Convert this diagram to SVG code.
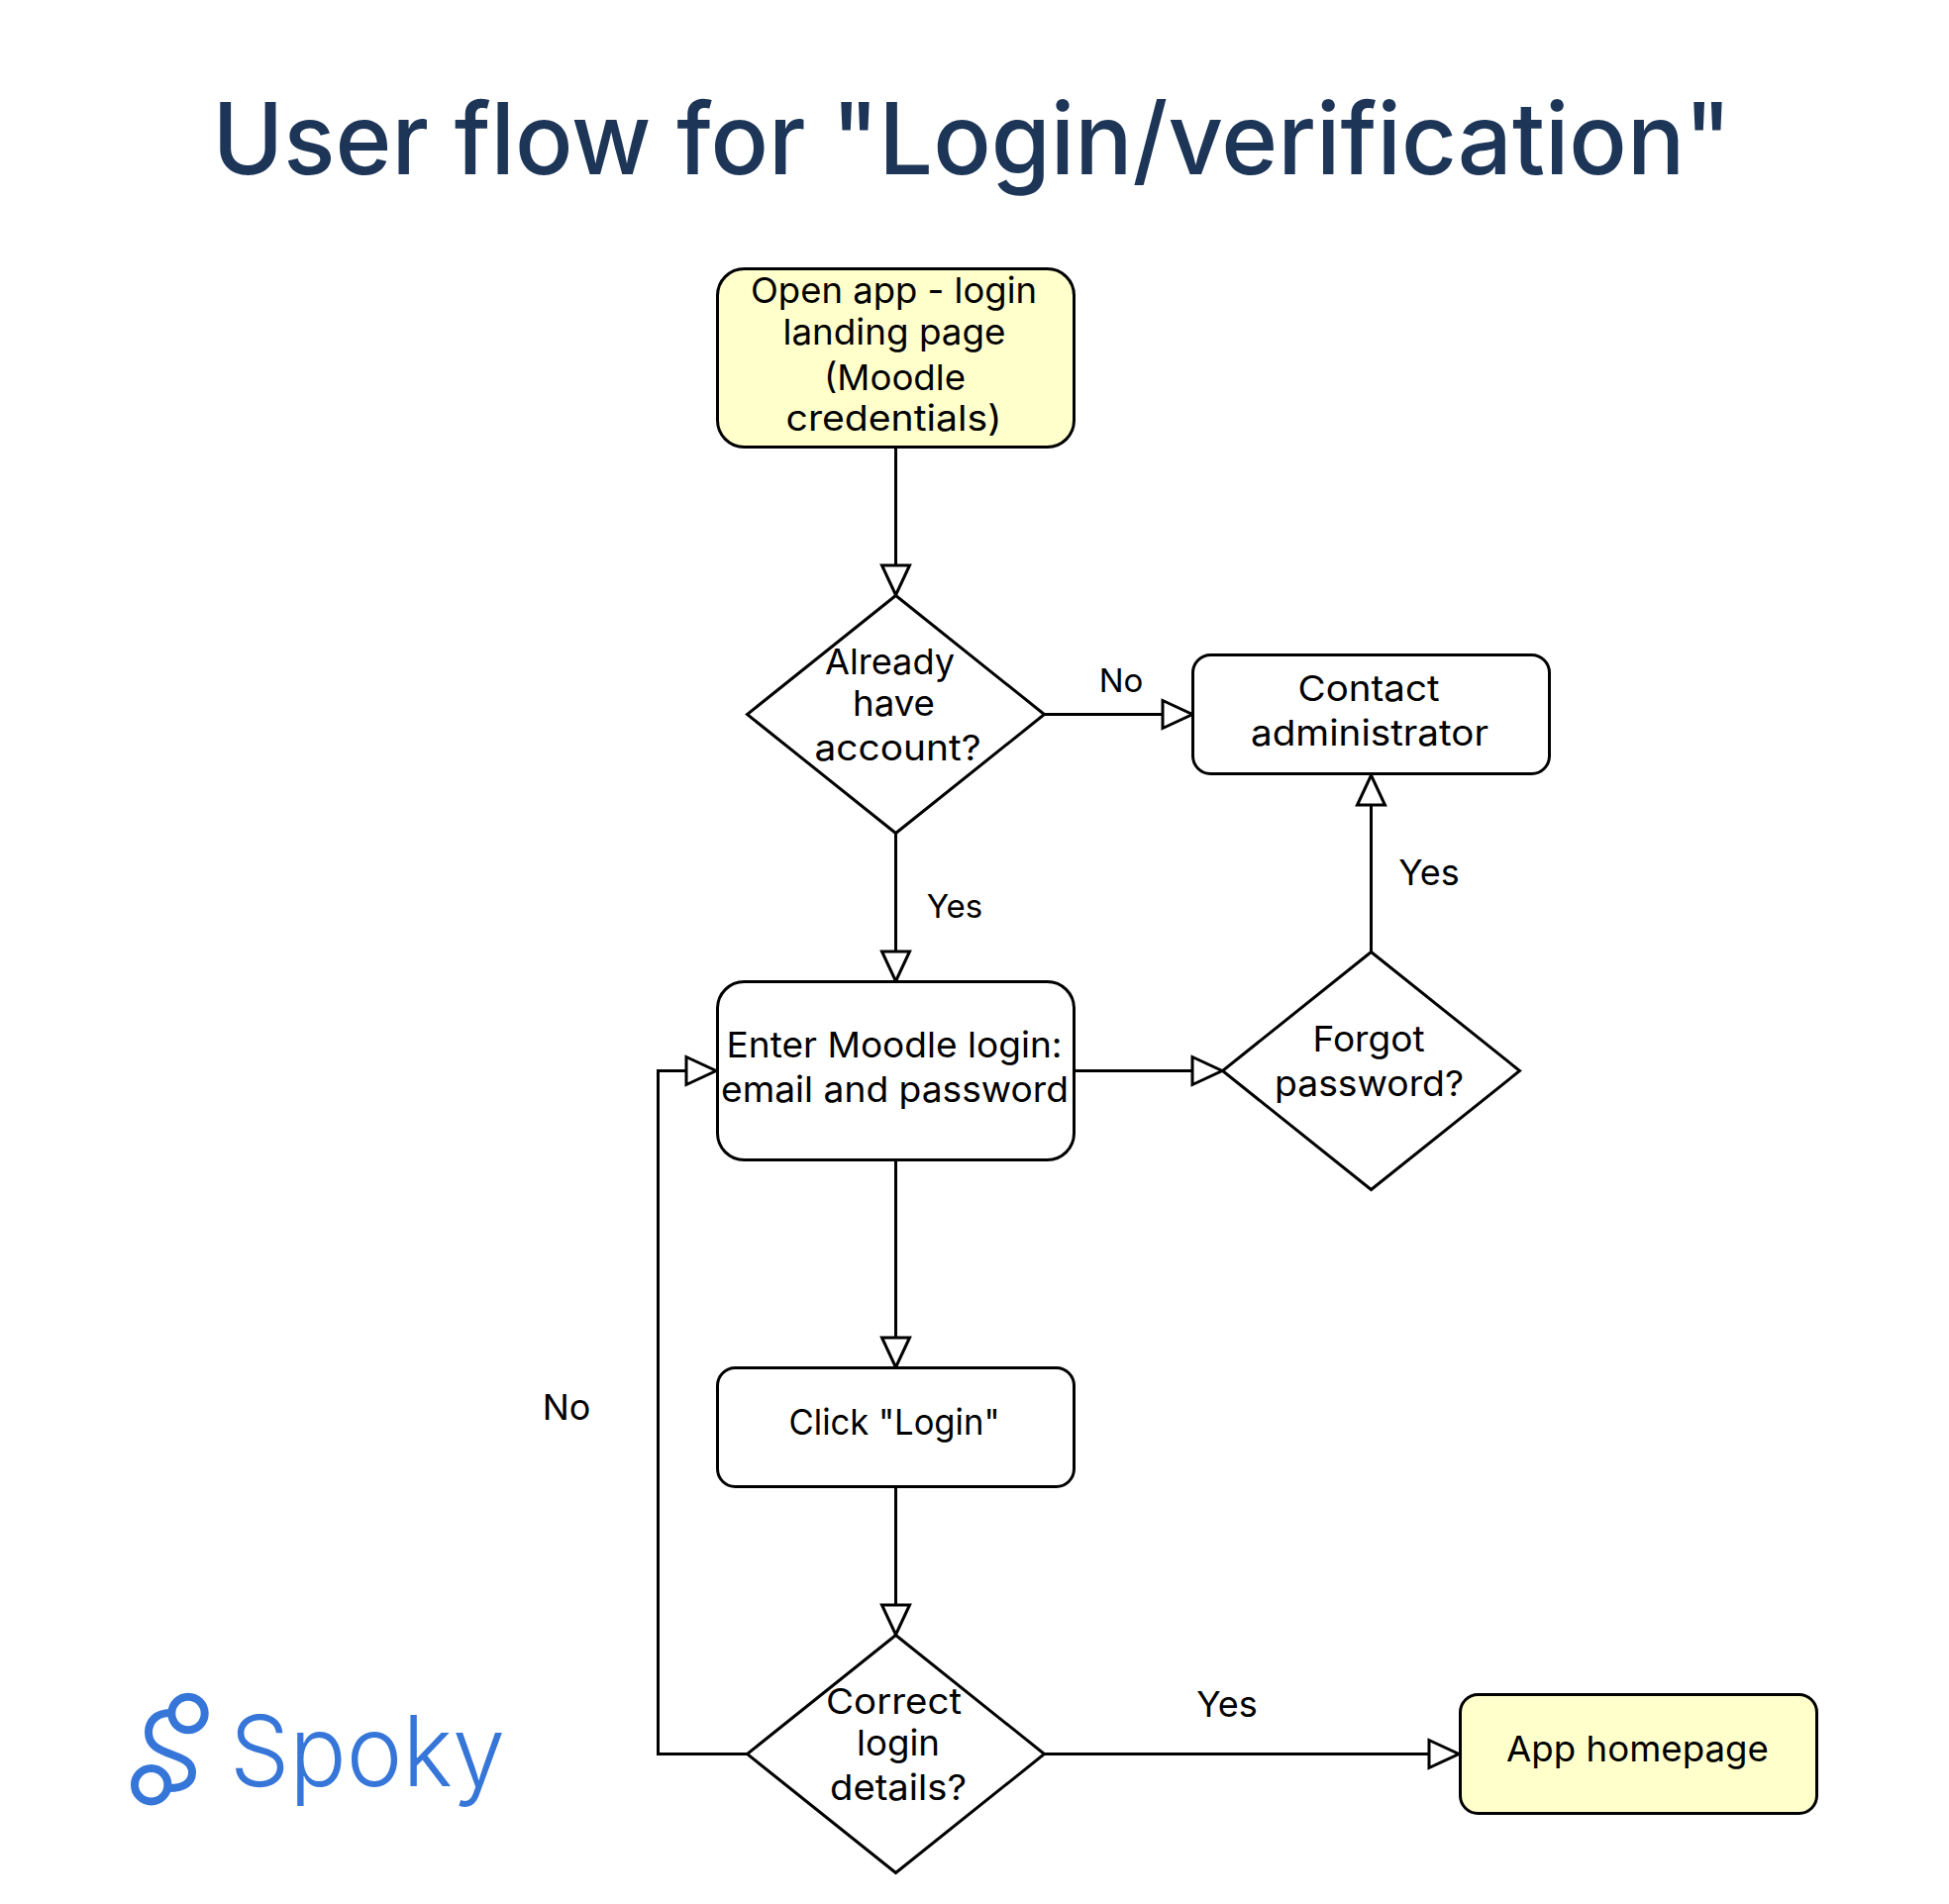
<svg xmlns="http://www.w3.org/2000/svg" width="1968" height="1923" viewBox="0 0 1968 1923">
<style>
text{font-family:"Inter","Liberation Sans",sans-serif}
.n{fill:#fff;stroke:#000;stroke-width:3}
.y{fill:#ffffcc;stroke:#000;stroke-width:3}
.t{font-size:36px;fill:#000;text-anchor:middle}
.l{font-size:33px;fill:#000;text-anchor:middle}
.c{fill:none;stroke:#000;stroke-width:3;marker-end:url(#a)}
</style>
<defs><marker id="a" markerUnits="userSpaceOnUse" markerWidth="34" markerHeight="34" refX="30" refY="14" orient="auto" viewBox="-2 -2 34 32"><path d="M0 0L30 14L0 28Z" fill="#fff" stroke="#000" stroke-width="3"/></marker></defs>
<rect width="1968" height="1923" fill="#fff"/>
<text id="title" x="981.500" y="176" text-anchor="middle" font-size="100" font-weight="550" fill="#1d3557" textLength="1534" lengthAdjust="spacingAndGlyphs">User flow for "Login/verification"</text>
<g id="connectors">
<path class="c" d="M904.500 451V601"/>
<path class="c" d="M1054.500 721.500H1204"/>
<path class="c" d="M904.500 841V991"/>
<path class="c" d="M1084 1081.500H1234"/>
<path class="c" d="M1384.500 961V783"/>
<path class="c" d="M904.500 1171V1381"/>
<path class="c" d="M904.500 1501V1651"/>
<path class="c" d="M1054.500 1771.500H1473"/>
<path class="c" d="M754.500 1771.500H664.500V1081.500H723"/>
</g>
<g id="n1"><rect class="y" x="724.500" y="271.500" width="360" height="180" rx="27"/><text class="t" x="902.500" y="306" textLength="289" lengthAdjust="spacingAndGlyphs">Open app - login</text><text class="t" x="903" y="348" textLength="225" lengthAdjust="spacingAndGlyphs">landing page</text><text class="t" x="903.500" y="394" textLength="143" lengthAdjust="spacingAndGlyphs">(Moodle</text><text class="t" x="902.500" y="435" textLength="218" lengthAdjust="spacingAndGlyphs">credentials)</text></g>
<g id="n2"><path class="n" d="M904.500 601.500L1054.500 721.500L904.500 841.500L754.500 721.500Z"/><text class="t" x="898.500" y="681" textLength="131" lengthAdjust="spacingAndGlyphs">Already</text><text class="t" x="902.500" y="723" textLength="83" lengthAdjust="spacingAndGlyphs">have</text><text class="t" x="906.500" y="768" textLength="168" lengthAdjust="spacingAndGlyphs">account?</text></g>
<g id="n3"><rect class="n" x="1204.500" y="661.500" width="360" height="120" rx="18"/><text class="t" x="1382" y="708" textLength="143" lengthAdjust="spacingAndGlyphs">Contact</text><text class="t" x="1383" y="753" textLength="240" lengthAdjust="spacingAndGlyphs">administrator</text></g>
<g id="n4"><rect class="n" x="724.500" y="991.500" width="360" height="180" rx="27"/><text class="t" x="903" y="1068" textLength="339" lengthAdjust="spacingAndGlyphs">Enter Moodle login:</text><text class="t" x="903.500" y="1113" textLength="351" lengthAdjust="spacingAndGlyphs">email and password</text></g>
<g id="n5"><path class="n" d="M1384.500 961.500L1534.500 1081.500L1384.500 1201.500L1234.500 1081.500Z"/><text class="t" x="1382" y="1062" textLength="113" lengthAdjust="spacingAndGlyphs">Forgot</text><text class="t" x="1382.500" y="1107" textLength="191" lengthAdjust="spacingAndGlyphs">password?</text></g>
<g id="n6"><rect class="n" x="724.500" y="1381.500" width="360" height="120" rx="18"/><text class="t" x="903" y="1449" textLength="213" lengthAdjust="spacingAndGlyphs">Click "Login"</text></g>
<g id="n7"><path class="n" d="M904.500 1651.500L1054.500 1771.500L904.500 1891.500L754.500 1771.500Z"/><text class="t" x="902.500" y="1731" textLength="137" lengthAdjust="spacingAndGlyphs">Correct</text><text class="t" x="907" y="1773" textLength="84" lengthAdjust="spacingAndGlyphs">login</text><text class="t" x="907" y="1818" textLength="138" lengthAdjust="spacingAndGlyphs">details?</text></g>
<g id="n8"><rect class="y" x="1474.500" y="1711.500" width="360" height="120" rx="18"/><text class="t" x="1653.500" y="1779" textLength="265" lengthAdjust="spacingAndGlyphs">App homepage</text></g>
<text class="l" x="1132" y="699">No</text>
<text class="l" x="964" y="927">Yes</text>
<text class="t" x="1443" y="894">Yes</text>
<text class="t" x="572" y="1434">No</text>
<text class="t" x="1239" y="1734">Yes</text>
<g id="logo" fill="none" stroke="#3676d8" stroke-width="8"><circle cx="190" cy="1730.500" r="16.700"/><circle cx="152.700" cy="1802.700" r="16.700"/><path d="M172 1730C158 1730 150 1738 150 1750C150 1776 194 1768 194 1790C194 1800 186 1806 171 1806"/></g>
<text x="232" y="1804" font-size="99" font-weight="350" fill="#3676d8" textLength="278" lengthAdjust="spacingAndGlyphs">Spoky</text>
</svg>
